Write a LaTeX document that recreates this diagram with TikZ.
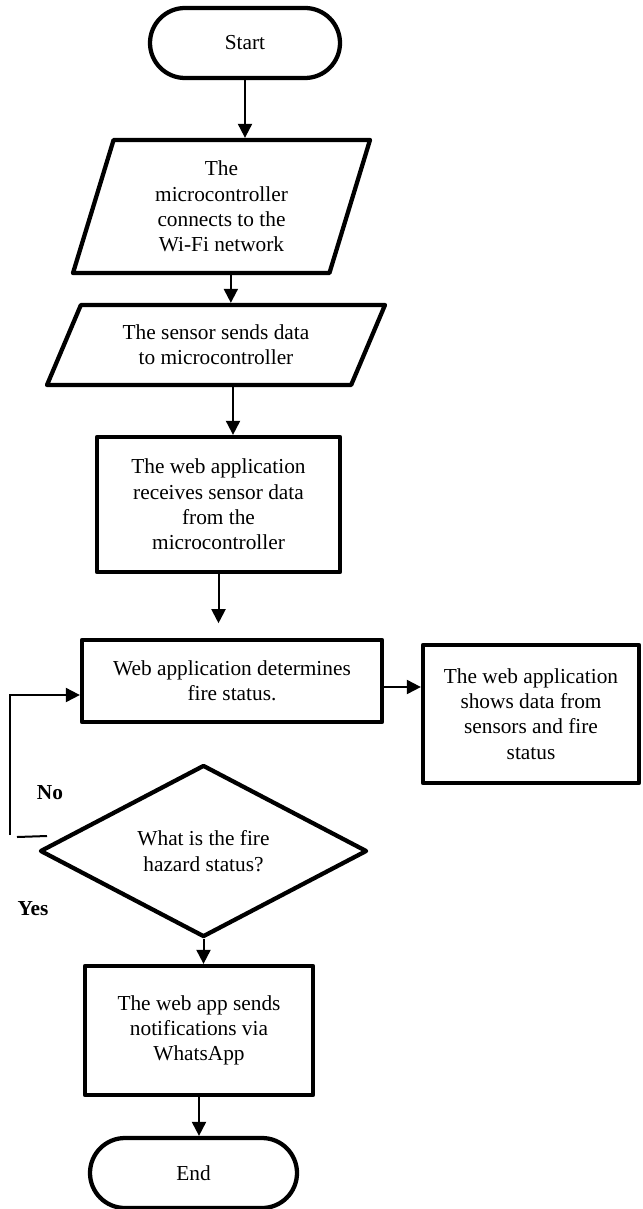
\documentclass[tikz,border=0pt]{standalone}
\usepackage{fontspec}
\setmainfont{Liberation Serif}
\usetikzlibrary{shapes.geometric}
\usetikzlibrary{shapes.misc}
\usetikzlibrary{arrows.meta}

\begin{document}
\begin{tikzpicture}[x=0.75pt, y=-0.75pt,
  box/.style={draw, line width=3.2pt, line join=round, align=center, inner sep=0pt, font=\fontsize{16}{19}\selectfont},
  term/.style={box, rounded rectangle},
  io/.style={box, trapezium, trapezium stretches body},
  arr/.style={line width=1.5pt, -{Triangle[width=10.5pt,length=10.5pt]}},
  lbl/.style={font=\fontsize{16}{19}\selectfont\bfseries}]
\useasboundingbox (0,0) rectangle (642,1209);
\node[term, minimum width=142.5pt, minimum height=52.5pt] (start) at (245,43) {Start};
\node[io, trapezium left angle=66, trapezium right angle=114, minimum width=222.75pt, minimum height=99.75pt] (wifi) at (221.5,206.5) {The\\microcontroller\\connects to the\\Wi-Fi network};
\node[io, trapezium left angle=50, trapezium right angle=130, minimum width=253.5pt, minimum height=60pt] (sensor) at (216,345) {The sensor sends data\\ to microcontroller};
\node[box, minimum width=182.25pt, minimum height=101.25pt] (recv) at (218.5,504.5) {The web application\\receives sensor data\\from the\\microcontroller};
\node[box, minimum width=225pt, minimum height=61.5pt] (fire) at (232,681) {Web application determines\\fire status.};
\node[box, minimum width=162pt, minimum height=103.5pt] (show) at (531,714) {The web application\\shows data from\\sensors and fire\\status};
\node[box, diamond, aspect=1.9, minimum width=245.25pt, minimum height=129pt] (ask) at (203.5,851) {What is the fire\\hazard status?};
\node[box, minimum width=171pt, minimum height=96.75pt] (wa) at (199,1030.5) {The web app sends\\notifications via\\WhatsApp};
\node[term, minimum width=155.25pt, minimum height=52.5pt] (stop) at (193.5,1173) {End};
\node[lbl] (no) at (50,793) {No};
\node[lbl] (yes) at (33,909) {Yes};
\draw[arr] (start.south) -- (start.south |- wifi.north);
\draw[arr] ([xshift=7pt]wifi.south) -- ([xshift=7pt]wifi.south |- sensor.north);
\draw[arr] ([xshift=12.75pt]sensor.south) -- ([xshift=12.75pt]sensor.south |- recv.north);
\draw[arr, shorten >=11pt] (recv.south) -- (recv.south |- fire.north);
\draw[arr] ([yshift=-4.5pt]fire.east) -- ([yshift=-4.5pt]fire.east -| show.west);
\draw[arr] (ask.south) -- (ask.south |- wa.north);
\draw[arr] (wa.south) -- (wa.south |- stop.north);
\coordinate (nx) at (10,835);
\coordinate (ta) at (17,837);
\coordinate (tb) at (47,836);
\draw[line width=1.5pt] (ta) -- (tb);
\draw[arr] (nx) |- ([yshift=-10.5pt]fire.west);
\end{tikzpicture}
\end{document}
